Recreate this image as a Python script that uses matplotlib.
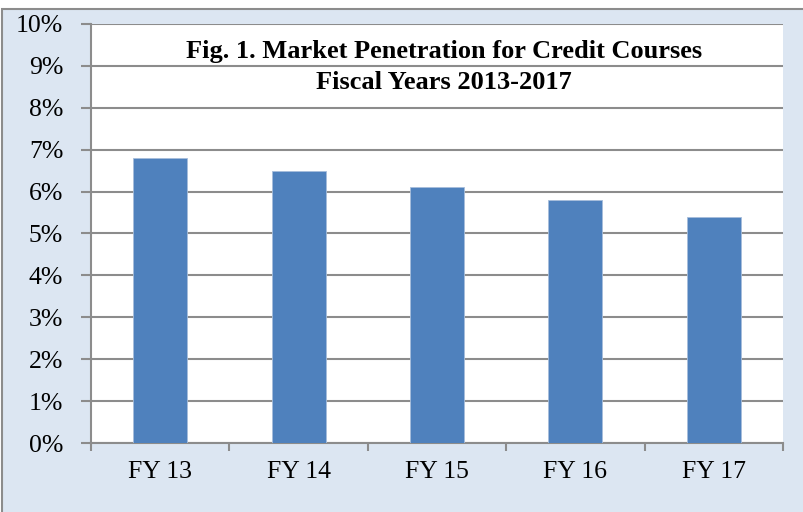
import matplotlib.pyplot as plt
import matplotlib.patches as patches
from matplotlib.ticker import MultipleLocator, FuncFormatter

years = ['FY 13', 'FY 14', 'FY 15', 'FY 16', 'FY 17']
penetration = [6.8, 6.5, 6.1, 5.8, 5.4]

plt.rcParams['font.family'] = ['Liberation Serif', 'DejaVu Serif']

fig = plt.figure(figsize=(8.04, 5.12), dpi=100)
fig.patch.set_facecolor('white')
W, H = 804, 512

# outer chart frame (behind the axes)
fig.patches.append(patches.Rectangle((2 / W, -0.01), 1.0, 1.01 - 9 / H, transform=fig.transFigure,
                                     facecolor='#dce6f2', edgecolor='#8c8c8c', linewidth=1.5,
                                     zorder=-10))

ax = fig.add_axes([91 / W, 1 - 443 / H, (783 - 91) / W, (443 - 24) / H])
ax.set_facecolor('white')

x = range(len(years))
ax.bar(x, penetration, width=0.39, color='#4f81bd', edgecolor='#a6bddb', linewidth=0.6, zorder=3)

ax.set_xlim(-0.5, len(years) - 0.5)
ax.set_ylim(0, 10)
ax.yaxis.set_major_locator(MultipleLocator(1))
ax.yaxis.set_major_formatter(FuncFormatter(lambda v, p: f'{v:.0f}%'))
ax.grid(axis='y', color='#8c8c8c', linewidth=1.5, zorder=0)
ax.set_axisbelow(True)

ax.set_xticks(list(x))
ax.set_xticklabels(years)
ax.set_xticks([i - 0.5 for i in range(len(years) + 1)], minor=True)
ax.tick_params(axis='x', which='major', length=0, pad=13, labelsize=18.5)
ax.tick_params(axis='x', which='minor', length=6, width=1.5, color='#8c8c8c')
ax.tick_params(axis='y', length=7, width=1.5, color='#8c8c8c', labelsize=18.5, pad=13)

for s in ['top', 'right']:
    ax.spines[s].set_visible(False)
for s in ['left', 'bottom']:
    ax.spines[s].set_color('#8c8c8c')
    ax.spines[s].set_linewidth(1.5)

ax.text(0.51, 0.962, 'Fig. 1. Market Penetration for Credit Courses\nFiscal Years 2013-2017',
        transform=ax.transAxes, ha='center', va='top', fontsize=19, fontweight='bold',
        linespacing=1.45, zorder=5)

fig.savefig('out.png', dpi=100, facecolor=fig.get_facecolor())
